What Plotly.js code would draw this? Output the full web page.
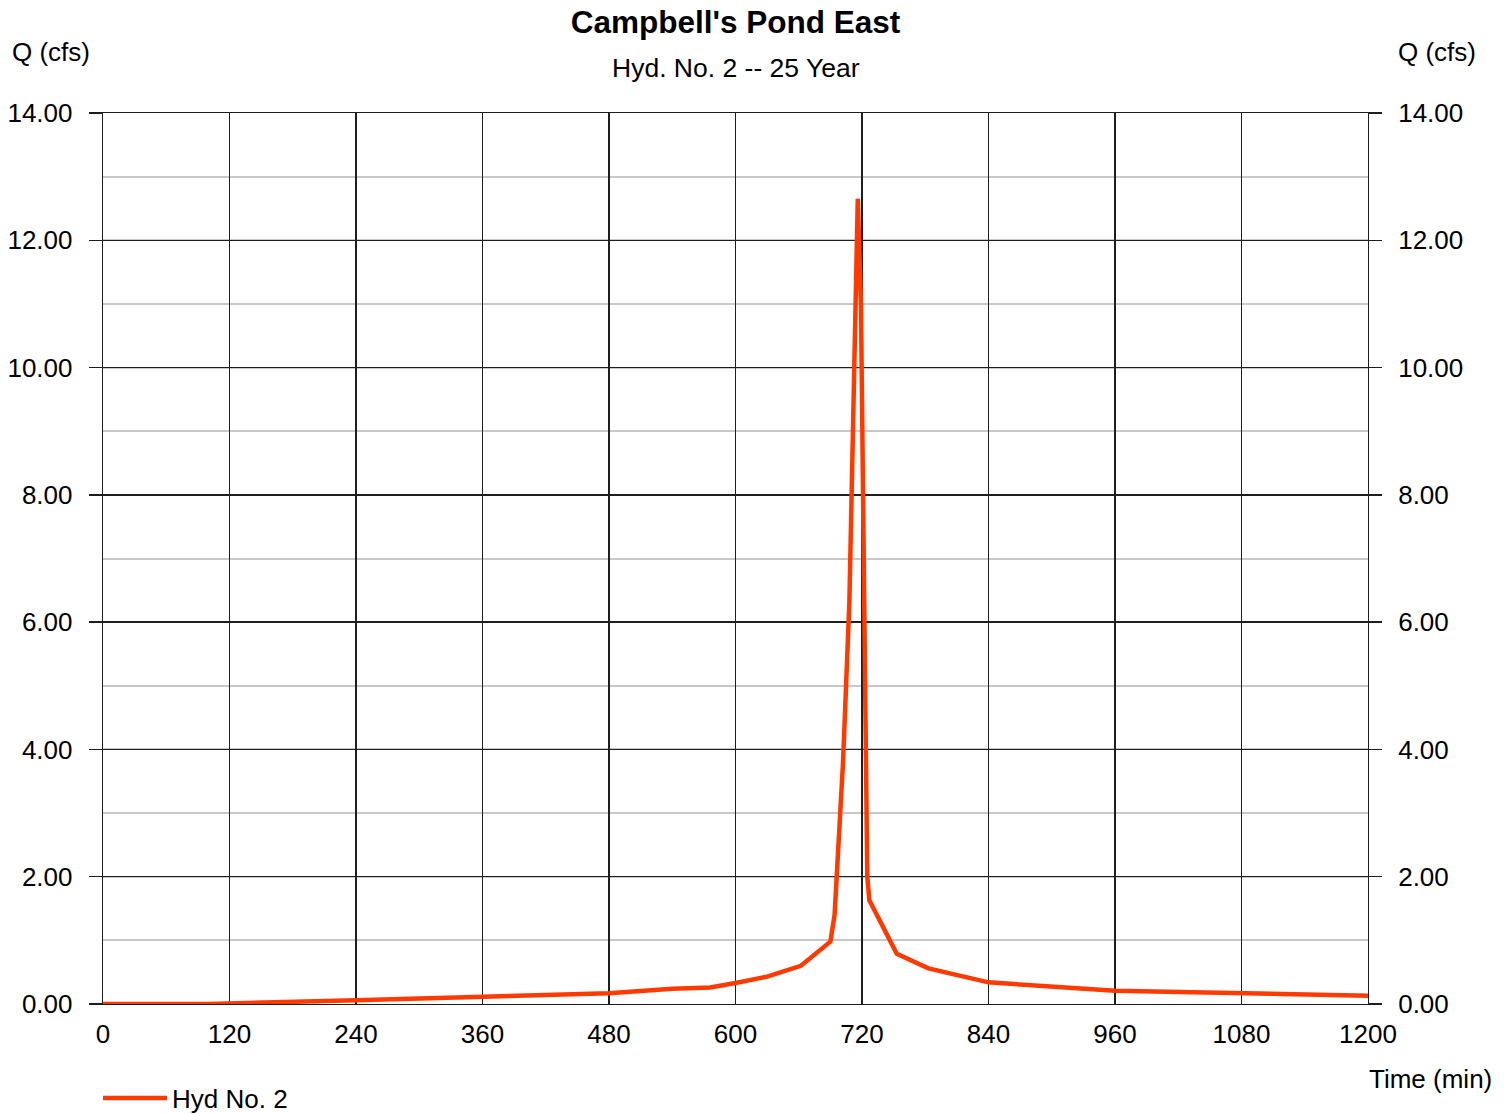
<!DOCTYPE html>
<html>
<head>
<meta charset="utf-8">
<script src="https://cdn.plot.ly/plotly-3.0.1.min.js"></script>
<style>html,body{margin:0;padding:0;background:#fff;}#chart{width:1510px;height:1114px;}</style>
</head>
<body>
<div id="chart"></div>
<script>
// Data
var timeMin = [0, 100, 240, 360, 480, 540, 576, 600, 630, 662, 690, 694, 702, 708, 712, 714, 716, 719, 722, 725, 727, 753, 783, 819, 840, 960, 1080, 1200];
var flowCfs = [0, 0, 0.06, 0.12, 0.17, 0.24, 0.26, 0.33, 0.43, 0.60, 0.98, 1.40, 3.8, 6.3, 9.5, 11.1, 12.65, 11.0, 6.3, 2.0, 1.63, 0.79, 0.56, 0.41, 0.34, 0.21, 0.17, 0.13];
var xTicks = [0, 120, 240, 360, 480, 600, 720, 840, 960, 1080, 1200];
var yTicks = [0, 2, 4, 6, 8, 10, 12, 14];
var yTickText = ["0.00", "2.00", "4.00", "6.00", "8.00", "10.00", "12.00", "14.00"];

var FONT = "Liberation Sans, Arial, sans-serif";
var trace = {
  x: timeMin, y: flowCfs, type: "scatter", mode: "lines",
  name: "Hyd No. 2",
  line: {color: "#ff3a00", width: 4.5}
};
// transparent companion so the right-hand axis is drawn
var traceRight = {
  x: timeMin, y: flowCfs, type: "scatter", mode: "lines", yaxis: "y2",
  showlegend: false, hoverinfo: "skip",
  line: {color: "rgba(0,0,0,0)", width: 0}
};

var gridCol = "#1e1e1e";
var yCommon = {
  range: [0, 14], tickmode: "array", tickvals: yTicks, ticktext: yTickText,
  showgrid: true, gridcolor: gridCol, gridwidth: 1.3,
  ticks: "outside", ticklen: 13, tickcolor: gridCol, tickwidth: 1.3,
  tickfont: {family: FONT, size: 26, color: "#000"},
  zeroline: false, fixedrange: true,
  ticklabelstandoff: 11
};

var layout = {
  width: 1510, height: 1114,
  margin: {l: 103, r: 142, t: 113, b: 110, autoexpand: false},
  paper_bgcolor: "#fff", plot_bgcolor: "#fff",
  font: {family: FONT, color: "#000"},
  title: {
    text: "<b>Campbell's Pond East</b>",
    font: {family: FONT, size: 31.5, color: "#000"},
    x: 0.5, xref: "paper", xanchor: "center",
    y: 1 - 22 / 1114, yref: "container", yanchor: "middle"
  },
  xaxis: {
    range: [0, 1200], tickmode: "array", tickvals: xTicks,
    showgrid: true, gridcolor: gridCol, gridwidth: 1.3,
    ticks: "", showline: true, mirror: true, linecolor: gridCol, linewidth: 1.3,
    zeroline: false, tickfont: {family: FONT, size: 26, color: "#000"},
    ticklabelstandoff: 6, fixedrange: true
  },
  yaxis: Object.assign({}, yCommon, {
    side: "left", showline: true, mirror: true, linecolor: gridCol, linewidth: 1.3,
    minor: {dtick: 1, tick0: 1, showgrid: true, gridcolor: "#c8c8c8", gridwidth: 2, ticks: ""}
  }),
  yaxis2: Object.assign({}, yCommon, {
    side: "right", overlaying: "y", showgrid: false, showline: false
  }),
  showlegend: true,
  legend: {
    x: -5 / 1265, xref: "paper", xanchor: "left",
    y: (1004 - 1098) / 891, yanchor: "middle",
    font: {family: FONT, size: 26, color: "#000"},
    bgcolor: "rgba(0,0,0,0)", orientation: "h", itemwidth: 64
  },
  annotations: [
    {text: "Hyd. No. 2 -- 25 Year", xref: "paper", yref: "paper", x: 0.5, y: (1004 - 68) / 891,
     xanchor: "center", yanchor: "middle", showarrow: false, font: {family: FONT, size: 26.5, color: "#000"}},
    {text: "Q (cfs)", xref: "paper", yref: "paper", x: (10 - 103) / 1265, y: (1004 - 52) / 891,
     xanchor: "left", yanchor: "middle", showarrow: false, font: {family: FONT, size: 26, color: "#000"}},
    {text: "Q (cfs)", xref: "paper", yref: "paper", x: (1478 - 103) / 1265, y: (1004 - 52) / 891,
     xanchor: "right", yanchor: "middle", showarrow: false, font: {family: FONT, size: 26, color: "#000"}},
    {text: "Time (min)", xref: "paper", yref: "paper", x: (1494 - 103) / 1265, y: (1004 - 1079) / 891,
     xanchor: "right", yanchor: "middle", showarrow: false, font: {family: FONT, size: 26, color: "#000"}}
  ]
};

Plotly.newPlot("chart", [trace, traceRight], layout, {displayModeBar: false, staticPlot: true});
</script>
</body>
</html>
